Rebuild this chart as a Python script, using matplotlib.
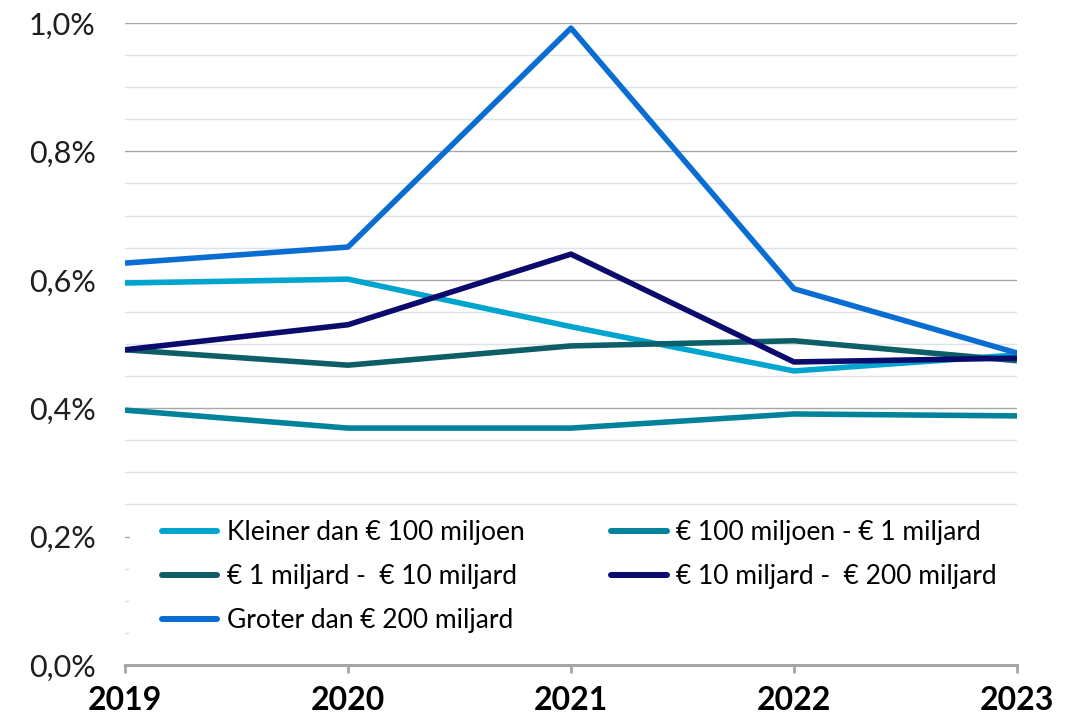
import numpy as np
import matplotlib.pyplot as plt
from matplotlib.ticker import MultipleLocator, FuncFormatter
from matplotlib.patches import Rectangle

plt.rcParams['font.family'] = ['Lato', 'DejaVu Sans']

# data (in %)
years = [2019, 2020, 2021, 2022, 2023]
kleiner = [0.595, 0.601, 0.527, 0.458, 0.483]
m100_1b = [0.397, 0.369, 0.369, 0.391, 0.388]
b1_10 = [0.491, 0.467, 0.497, 0.505, 0.474]
b10_200 = [0.491, 0.530, 0.640, 0.472, 0.478]
groter = [0.626, 0.651, 0.992, 0.586, 0.486]

labels = ['Kleiner dan € 100 miljoen', '€ 100 miljoen - € 1 miljard',
          '€ 1 miljard -  € 10 miljard', '€ 10 miljard -  € 200 miljard',
          'Groter dan € 200 miljard']
colors = ['#00A5CF', '#00839A', '#0E5E68', '#0B0B6E', '#0A6DD1']
series = [kleiner, m100_1b, b1_10, b10_200, groter]

fig = plt.figure(figsize=(10.81, 7.21), dpi=100)
ax = fig.add_axes([0.1156, 0.0777, 0.8252, 0.8904])

handles = []
for vals, lab, c in zip(series, labels, colors):
    h, = ax.plot(years, vals, color=c, lw=4.0, label=lab, solid_capstyle='butt', zorder=3)
    handles.append(h)

ax.set_xlim(2019, 2023)
ax.set_ylim(0, 1.0)
ax.set_xticks(years)
ax.yaxis.set_major_locator(MultipleLocator(0.2))
ax.yaxis.set_minor_locator(MultipleLocator(0.05))
ax.yaxis.set_major_formatter(FuncFormatter(lambda v, p: f'{v:.1f}%'.replace('.', ',')))
ax.grid(axis='y', which='minor', color='#DCE2E8', lw=1)
ax.grid(axis='y', which='major', color='#A6A6A6', lw=1)
ax.set_axisbelow(True)

for s in ['top', 'right', 'left']:
    ax.spines[s].set_visible(False)
ax.spines['bottom'].set_color('#A6A6A6')
ax.spines['bottom'].set_linewidth(2.2)
ax.spines['bottom'].set_zorder(5)

ax.tick_params(axis='y', which='both', length=0, pad=21, labelsize=22, labelcolor='#1E1E1E')
ax.tick_params(axis='x', length=6, width=2, color='#A6A6A6', pad=9, labelsize=23)
for t in ax.get_xticklabels():
    t.set_fontweight('bold')

# white area behind the legend hides the gridlines there
ax.add_patch(Rectangle((0.006, 0.016), 0.994, 0.229, transform=ax.transAxes,
                       facecolor='white', edgecolor='none', zorder=1))

order = [0, 2, 4, 1, 3]
leg = ax.legend([handles[i] for i in order], [labels[i] for i in order],
                ncol=2, loc='upper left', bbox_to_anchor=(0.0415, 0.226),
                fontsize=19, frameon=False, handlelength=2.1, handletextpad=0.35,
                columnspacing=3.3, labelspacing=0.73, borderpad=0,
                borderaxespad=0)
for line in leg.get_lines():
    line.set_linewidth(4.3)
    line.set_solid_capstyle('round')

fig.savefig('out.png', dpi=100)
